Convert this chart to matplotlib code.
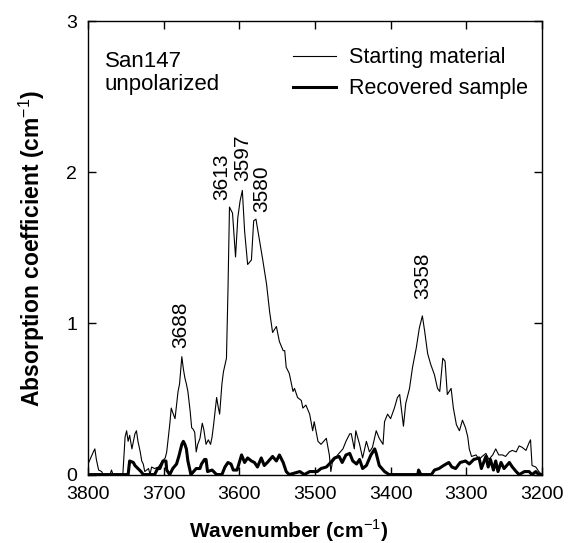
import matplotlib
matplotlib.use('Agg')
import matplotlib.pyplot as plt

plt.rcParams['font.family'] = ['Liberation Sans', 'DejaVu Sans']
plt.rcParams['mathtext.fontset'] = 'custom'
plt.rcParams['mathtext.rm'] = 'Liberation Sans'
plt.rcParams['mathtext.bf'] = 'Liberation Sans:bold'

# starting material spectrum (wavenumber, absorption coefficient)
start_wn = [3800, 3793, 3791, 3789, 3786, 3782, 3780, 3771, 3769, 3767, 3754, 3751, 3749, 3747,
            3745, 3742, 3740, 3738, 3736, 3734, 3731, 3729, 3727, 3725, 3720, 3718, 3716, 3712,
            3707, 3703, 3698, 3696, 3694, 3692, 3690, 3688, 3685, 3683, 3681, 3679, 3676, 3674,
            3672, 3670, 3668, 3665, 3663, 3661, 3659, 3657, 3655, 3652, 3649, 3647, 3644, 3641,
            3638, 3636, 3634, 3630, 3628, 3626, 3623, 3621, 3617, 3615, 3613, 3609, 3605, 3602,
            3599, 3596, 3593, 3589, 3584, 3581, 3578, 3574, 3569, 3564, 3560, 3556, 3551, 3547,
            3542, 3540, 3538, 3534, 3529, 3527, 3523, 3518, 3516, 3512, 3507, 3503, 3501, 3496,
            3492, 3485, 3481, 3479, 3477, 3470, 3463, 3459, 3454, 3452, 3448, 3446, 3441, 3437,
            3432, 3428, 3424, 3419, 3415, 3410, 3408, 3404, 3400, 3395, 3391, 3388, 3383, 3380,
            3375, 3371, 3366, 3362, 3358, 3355, 3351, 3347, 3342, 3338, 3335, 3331, 3328, 3325,
            3320, 3317, 3313, 3309, 3305, 3301, 3298, 3296, 3293, 3287, 3283, 3279, 3274, 3270,
            3265, 3261, 3257, 3252, 3248, 3243, 3239, 3234, 3230, 3226, 3221, 3217, 3215, 3213,
            3208, 3204, 3200]
start_abs = [0.07, 0.15, 0.17, 0.10, 0.03, 0.02, 0.0, 0.0, 0.03, 0.0, 0.0, 0.25, 0.29, 0.22,
             0.26, 0.17, 0.22, 0.27, 0.29, 0.22, 0.15, 0.09, 0.07, 0.02, 0.04, 0.0, 0.05, 0.04,
             0.05, 0.08, 0.11, 0.15, 0.24, 0.33, 0.44, 0.41, 0.37, 0.46, 0.55, 0.60, 0.78, 0.70,
             0.64, 0.60, 0.55, 0.42, 0.31, 0.30, 0.28, 0.15, 0.20, 0.24, 0.34, 0.30, 0.20, 0.23,
             0.20, 0.25, 0.33, 0.51, 0.45, 0.40, 0.60, 0.68, 0.77, 1.22, 1.77, 1.73, 1.44, 1.70,
             1.81, 1.88, 1.61, 1.39, 1.42, 1.68, 1.69, 1.57, 1.42, 1.26, 1.08, 0.94, 0.98, 0.88,
             0.82, 0.82, 0.71, 0.67, 0.55, 0.57, 0.51, 0.49, 0.44, 0.46, 0.40, 0.29, 0.35, 0.22,
             0.20, 0.24, 0.13, 0.02, 0.08, 0.13, 0.17, 0.22, 0.27, 0.27, 0.17, 0.29, 0.20, 0.11,
             0.22, 0.15, 0.18, 0.29, 0.24, 0.20, 0.35, 0.40, 0.37, 0.44, 0.51, 0.53, 0.32, 0.47,
             0.57, 0.71, 0.84, 0.97, 1.05, 0.95, 0.80, 0.73, 0.66, 0.57, 0.55, 0.77, 0.75, 0.53,
             0.57, 0.44, 0.33, 0.29, 0.36, 0.31, 0.25, 0.17, 0.12, 0.13, 0.10, 0.12, 0.14, 0.10,
             0.13, 0.17, 0.13, 0.13, 0.12, 0.15, 0.16, 0.15, 0.19, 0.18, 0.16, 0.21, 0.23, 0.06,
             0.05, 0.02, 0.0]

# recovered sample spectrum
rec_wn = [3800, 3755, 3747, 3745, 3740, 3738, 3734, 3730, 3727, 3712, 3708, 3705, 3701, 3697,
          3696, 3692, 3688, 3683, 3680, 3676, 3674, 3672, 3670, 3668, 3664, 3657, 3652, 3650,
          3646, 3644, 3642, 3636, 3630, 3623, 3619, 3615, 3611, 3608, 3603, 3597, 3593, 3589,
          3584, 3580, 3576, 3571, 3567, 3563, 3556, 3551, 3547, 3542, 3538, 3534, 3520, 3514,
          3507, 3497, 3492, 3485, 3481, 3474, 3468, 3464, 3459, 3454, 3450, 3445, 3441, 3437,
          3432, 3426, 3421, 3419, 3415, 3408, 3402, 3364, 3363, 3360, 3346, 3342, 3336, 3330,
          3323, 3319, 3314, 3308, 3301, 3296, 3290, 3283, 3280, 3274, 3271, 3268, 3264, 3261,
          3258, 3254, 3250, 3243, 3239, 3234, 3230, 3223, 3217, 3213, 3208, 3204, 3200]
rec_abs = [0.0, 0.0, 0.0, 0.09, 0.08, 0.06, 0.04, 0.02, 0.0, 0.0, 0.04, 0.04, 0.09, 0.09,
           0.03, 0.0, 0.04, 0.07, 0.12, 0.20, 0.22, 0.20, 0.17, 0.09, 0.0, 0.04, 0.04, 0.07,
           0.10, 0.10, 0.02, 0.03, 0.0, 0.0, 0.05, 0.08, 0.07, 0.03, 0.03, 0.13, 0.08, 0.11,
           0.09, 0.08, 0.05, 0.11, 0.06, 0.08, 0.12, 0.09, 0.13, 0.08, 0.02, 0.0, 0.02, 0.0,
           0.02, 0.02, 0.04, 0.05, 0.07, 0.11, 0.12, 0.08, 0.13, 0.14, 0.09, 0.07, 0.10, 0.04,
           0.06, 0.13, 0.17, 0.14, 0.06, 0.02, 0.0, 0.0, 0.03, 0.0, 0.0, 0.03, 0.04, 0.06,
           0.08, 0.05, 0.04, 0.08, 0.09, 0.07, 0.10, 0.11, 0.04, 0.12, 0.05, 0.10, 0.03, 0.09,
           0.02, 0.08, 0.04, 0.08, 0.05, 0.02, 0.0, 0.02, 0.02, 0.0, 0.02, 0.0, 0.0]

# peak labels (label text, x position, y of label bottom)
peak_text = ['3688', '3613', '3597', '3580', '3358']
peak_x = [3678, 3623, 3596, 3570, 3357]
peak_y = [0.84, 1.82, 1.94, 1.74, 1.16]

fig = plt.figure(figsize=(5.68, 5.43), dpi=100)
ax = fig.add_axes([0.155, 0.126, 0.799, 0.835])

ax.plot(start_wn, start_abs, color='black', lw=0.8, label='Starting material')
ax.plot(rec_wn, rec_abs, color='black', lw=2.2, label='Recovered sample')

for t, x, y in zip(peak_text, peak_x, peak_y):
    ax.text(x, y, t, rotation=90, ha='center', va='bottom', fontsize=15)

ax.text(0.037, 0.935, 'San147\nunpolarized', transform=ax.transAxes, ha='left', va='top',
        fontsize=16, linespacing=1.15)

ax.legend(loc='upper right', bbox_to_anchor=(1.012, 0.985), frameon=False, fontsize=15.5,
          handlelength=2.0, handletextpad=0.6, labelspacing=0.45)

ax.set_xlim(3800, 3200)
ax.set_ylim(0, 3)
ax.set_xticks([3800, 3700, 3600, 3500, 3400, 3300, 3200])
ax.set_yticks([0, 1, 2, 3])
ax.tick_params(direction='in', length=6, width=1, top=True, right=True, labelsize=14, pad=8)
for s in ax.spines.values():
    s.set_linewidth(1.0)

ax.set_xlabel('Wavenumber (cm$^{-1}$)', fontsize=15, fontweight='bold', labelpad=8)
ax.xaxis.set_label_coords(0.443, -0.095)
ax.set_ylabel('Absorption coefficient (cm$^{-1}$)', fontsize=16.5, fontweight='bold', labelpad=14)

fig.savefig('out.png', dpi=100)
